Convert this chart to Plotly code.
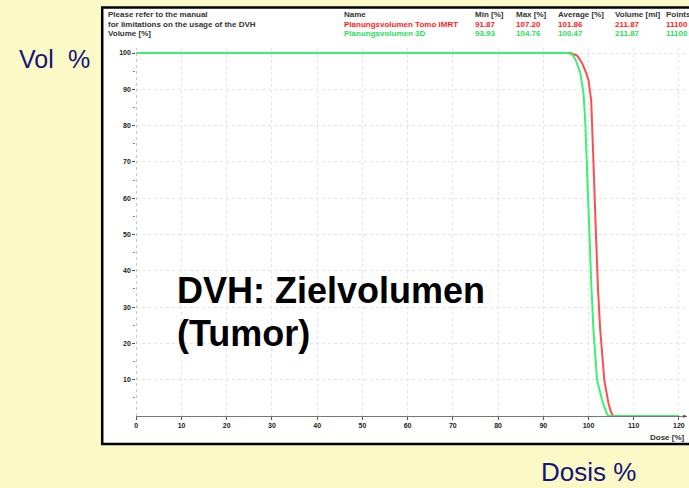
import plotly.graph_objects as go

# ---- data ----
dose_imrt = [0, 96.0, 97.5, 98.6, 99.5, 100.0, 100.6, 100.9, 101.1, 101.6, 102.1, 102.6, 103.5, 104.4, 105.0, 105.5, 120]
vol_imrt = [100, 100, 99.3, 97.2, 94.5, 92.6, 87.0, 78.0, 70.0, 52.0, 35.0, 23.7, 9.9, 3.6, 1.0, 0, 0]
dose_3d = [0, 95.5, 96.5, 97.2, 98.2, 98.9, 99.3, 99.6, 100.1, 100.6, 101.1, 101.9, 103.0, 104.0, 104.4, 120]
vol_3d = [100, 100, 99.5, 98.0, 94.5, 88.9, 80.7, 70.0, 52.0, 37.0, 23.7, 9.9, 4.4, 0.8, 0, 0]

x_ticks = [0, 10, 20, 30, 40, 50, 60, 70, 80, 90, 100, 110, 120]
y_ticks = [10, 20, 30, 40, 50, 60, 70, 80, 90, 100]

header_cols = ["Min [%]", "Max [%]", "Average [%]", "Volume [ml]", "Points"]
row_names = ["Planungsvolumen Tomo IMRT", "Planungsvolumen 3D"]
row_values = [["91.87", "107.20", "101.86", "211.87", "11100"],
              ["93.93", "104.76", "100.47", "211.87", "11100"]]
row_colors = ["#ff1a1a", "#1ee05a"]
line_colors = ["#ff4d4d", "#3df070"]

W, H = 689, 488
def px(x): return x / W
def py(y): return 1 - y / H

fig = go.Figure()
fig.add_trace(go.Scatter(x=dose_imrt, y=vol_imrt, mode="lines",
                         line=dict(color=line_colors[0], width=2), showlegend=False))
fig.add_trace(go.Scatter(x=dose_3d, y=vol_3d, mode="lines",
                         line=dict(color=line_colors[1], width=2), showlegend=False))

tickfont = dict(family="Liberation Sans, Arial", size=7, color="#222222")

fig.update_layout(
    width=W, height=H,
    margin=dict(l=0, r=0, t=0, b=0),
    paper_bgcolor="#fbfac6",
    plot_bgcolor="rgba(0,0,0,0)",
    xaxis=dict(domain=[px(134.7), px(686.6)], range=[0, 121.7],
               tickvals=x_ticks, ticktext=["<b>%d</b>" % v for v in x_ticks],
               showline=True, linecolor="#777777", linewidth=1,
               ticks="outside", ticklen=3, tickcolor="#555555",
               showgrid=True, gridcolor="#e4e4e4", griddash="dot", gridwidth=1,
               zeroline=False, tickfont=tickfont, fixedrange=True),
    yaxis=dict(domain=[py(416), py(47.6)], range=[0, 101.5],
               tickvals=y_ticks, ticktext=["<b>%d</b>" % v for v in y_ticks],
               showline=False,
               ticks="outside", ticklen=3, tickcolor="#555555",
               minor=dict(tickvals=[5, 15, 25, 35, 45, 55, 65, 75, 85, 95], ticks="outside", ticklen=2, tickcolor="#888888", showgrid=False),
               showgrid=True, gridcolor="#e4e4e4", griddash="dot", gridwidth=1,
               zeroline=False, tickfont=tickfont, fixedrange=True),
)

# white panel with black frame
fig.add_shape(type="rect", xref="paper", yref="paper",
              x0=px(100.5), x1=px(700), y0=py(444), y1=py(7.5),
              line=dict(color="black", width=2.5), fillcolor="white", layer="below")
# dotted y axis line
fig.add_shape(type="line", xref="x", yref="y", x0=0, x1=0, y0=0, y1=101.5,
              line=dict(color="#999999", width=1, dash="dot"))

ann = []
small = dict(family="Liberation Sans, Arial", size=8)
def txt(x, y, s, color="#333333", size=None, bold=True, xanchor="left", yanchor="middle", family=None):
    f = dict(small)
    f["color"] = color
    if size: f["size"] = size
    if family: f["family"] = family
    ann.append(dict(x=px(x), y=py(y), xref="paper", yref="paper", text=("<b>%s</b>" % s) if bold else s,
                    showarrow=False, xanchor=xanchor, yanchor=yanchor, font=f))

txt(104, 15, "Please refer to the manual")
txt(104, 24, "for limitations on the usage of the DVH")
txt(104, 33, "Volume [%]")
col_x = [472, 513, 556, 613, 664]
txt(341, 15, "Name")
for cx, h in zip(col_x, header_cols):
    txt(cx, 15, h)
for i, (nm, vals) in enumerate(zip(row_names, row_values)):
    yy = 24 + 9 * i
    txt(341, yy, nm, color=row_colors[i])
    for cx, v in zip(col_x, vals):
        txt(cx, yy, v, color=row_colors[i])
txt(687, 437, "Dose [%]", xanchor="right")
txt(680, 416, "►", color="#555555", size=6, bold=False)

big = dict(family="Liberation Sans, Arial", size=36, color="black")
ann.append(dict(x=px(174), y=py(290), xref="paper", yref="paper", text="<b>DVH: Zielvolumen</b>",
                showarrow=False, xanchor="left", yanchor="middle", font=big))
ann.append(dict(x=px(174), y=py(333), xref="paper", yref="paper", text="<b>(Tumor)</b>",
                showarrow=False, xanchor="left", yanchor="middle", font=big))

blue = dict(family="Liberation Sans, Arial", size=25, color="#14147a")
ann.append(dict(x=px(15), y=py(59), xref="paper", yref="paper", text="Vol",
                showarrow=False, xanchor="left", yanchor="middle", font=blue))
ann.append(dict(x=px(90), y=py(59), xref="paper", yref="paper", text="%",
                showarrow=False, xanchor="right", yanchor="middle", font=blue))
ann.append(dict(x=px(539), y=py(472), xref="paper", yref="paper", text="Dosis %",
                showarrow=False, xanchor="left", yanchor="middle", font=dict(blue, size=26)))

fig.update_layout(annotations=ann)
fig.write_html("out.html", config={"displayModeBar": False},
               post_script="document.body.style.margin='0';document.body.style.overflow='hidden';")
